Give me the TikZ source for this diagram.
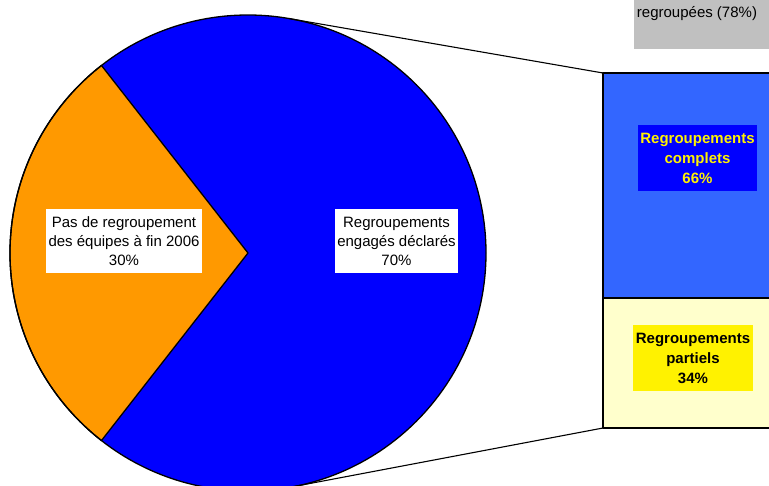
\documentclass[tikz,border=0pt]{standalone}
\usepackage{fontspec}
\setmainfont{Liberation Sans}
\usetikzlibrary{calc}
\definecolor{pieorange}{HTML}{FF9900}
\definecolor{pieblue}{HTML}{0000FF}
\definecolor{barblue}{HTML}{3366FF}
\definecolor{barcream}{HTML}{FFFFCC}
\definecolor{notegray}{HTML}{C0C0C0}
\tikzset{
    chartfont/.style={font=\fontsize{15}{19}\selectfont},
    pielabel/.style={chartfont, fill=white, align=center, inner sep=0pt, text=black},
    barlabel/.style={chartfont, align=center, inner sep=0pt, font=\fontsize{15}{20}\selectfont\bfseries},
}
\begin{document}
\begin{tikzpicture}[x=1pt,y=-1pt,line join=round]
        %% NOTE: draw diagram
        \useasboundingbox (0,0) rectangle (769,485);
        \clip (0,0) rectangle (769,485);
        %% note box (top right)
        \fill[notegray] (634,-40) rectangle (800,49);
        \node[chartfont, anchor=base] (note) at (697,17) {regroupées (78\%)};
        %% pie
        \coordinate (centre) at (248,253);
        \fill[pieblue] (centre) circle (238);
        \filldraw[fill=pieorange, line width=1.3pt] (centre) -- ++(128:238) arc (128:232:238) -- cycle;
        \draw[line width=1.3pt] (centre) circle (238);
        \coordinate (piehi) at ($(centre)+(-80:238)$);
        \coordinate (pielo) at ($(centre)+(80:238)$);
        %% bar
        \coordinate (bartop) at (603,73);
        \coordinate (barbot) at (603,428);
        \filldraw[fill=barblue, line width=1.3pt] (bartop) rectangle (800,298);
        \filldraw[fill=barcream, line width=1.3pt] (603,298) rectangle (800,428);
        %% connectors
        \draw[line width=1.1pt] (piehi) -- (bartop);
        \draw[line width=1.1pt] (pielo) -- (barbot);
        %% labels
        \node[pielabel, minimum width=156, minimum height=64] (nogroup) at (124,241)
            {Pas de regroupement\\des équipes à fin 2006\\30\%};
        \node[pielabel, minimum width=123, minimum height=64] (engaged) at (396.5,241)
            {Regroupements\\engagés déclarés\\70\%};
        \node[barlabel, fill=pieblue, text=yellow, minimum width=119, minimum height=66] (complete) at (697.5,158)
            {Regroupements\\complets\\66\%};
        \node[barlabel, fill=yellow, text=black, minimum width=120, minimum height=66] (partial) at (693,358)
            {Regroupements\\partiels\\34\%};
\end{tikzpicture}
\end{document}
